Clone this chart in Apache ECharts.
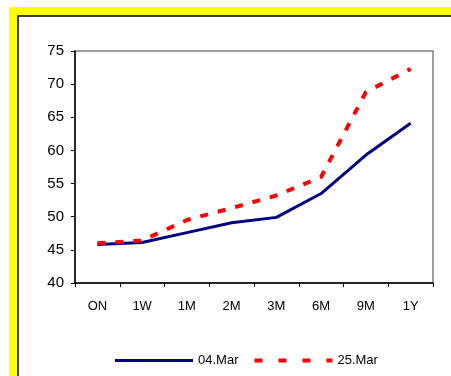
<!DOCTYPE html>
<html>
<head>
<meta charset="utf-8">
<script src="https://cdn.jsdelivr.net/npm/echarts@6/dist/echarts.min.js"></script>
<style>
  html, body { margin: 0; padding: 0; background: #ffffff; }
  #chart { width: 451px; height: 376px; }
</style>
</head>
<body>
<div id="chart"></div>
<script>
// Tenors on the horizontal axis
const tenors = ['ON', '1W', '1M', '2M', '3M', '6M', '9M', '1Y'];
// Curve on 04.Mar
const mar04 = [45.8, 46.1, 47.6, 49.1, 49.9, 53.5, 59.3, 64.1];
// Curve on 25.Mar
const mar25 = [46.0, 46.4, 49.5, 51.3, 53.2, 56.0, 68.8, 72.3];
// Vertical axis range
const yMin = 40, yMax = 75, yStep = 5;

// Legend keys: a solid bar and four dashes, both 4 units high
const solidKey = 'path://M0,0h78v0.01h-78z M0,0.5h78v3h-78z M0,3.99h78v0.01h-78z';
const dashKey = 'path://M0,0h8v4h-8z M24,0h8v4h-8z M48,0h8v4h-8z M72,0h6v4h-6z';

const chart = echarts.init(document.getElementById('chart'), null, { renderer: 'canvas' });

chart.setOption({
  animation: false,
  backgroundColor: '#ffffff',
  textStyle: { fontFamily: 'Liberation Sans, Arial, sans-serif', color: '#000' },
  graphic: [
    { type: 'rect', z: -10, shape: { x: 9, y: 7, width: 460, height: 400 }, style: { fill: '#ffff00' } },
    { type: 'rect', z: -9, shape: { x: 18, y: 16, width: 460, height: 400 }, style: { fill: '#ffffff', stroke: '#000000', lineWidth: 1.5 } }
  ],
  grid: {
    left: 75, top: 51, width: 358, height: 232,
    show: true, borderColor: '#808080', borderWidth: 1.5, backgroundColor: 'transparent'
  },
  legend: {
    left: 110, top: 349,
    itemWidth: 78, itemHeight: 4, itemGap: 16,
    textStyle: { fontSize: 13, color: '#000', fontFamily: 'Liberation Sans, Arial, sans-serif' },
    data: [
      { name: '04.Mar', icon: solidKey },
      { name: '25.Mar', icon: dashKey }
    ]
  },
  xAxis: {
    type: 'category',
    data: tenors,
    boundaryGap: true,
    axisLine: { lineStyle: { color: '#000', width: 1.5 } },
    axisTick: { show: true, length: 4, inside: false, alignWithLabel: false, lineStyle: { color: '#000' } },
    axisLabel: { fontSize: 13, color: '#000', margin: 17 },
    splitLine: { show: false }
  },
  yAxis: {
    type: 'value',
    min: yMin, max: yMax, interval: yStep,
    axisLine: { show: true, lineStyle: { color: '#000', width: 1.5 } },
    axisTick: { show: true, length: 4, lineStyle: { color: '#000' } },
    axisLabel: { fontSize: 15, color: '#000', margin: 11 },
    splitLine: { show: false }
  },
  series: [
    {
      name: '04.Mar', type: 'line', data: mar04,
      symbol: 'none', smooth: false,
      lineStyle: { color: '#000080', width: 3 },
      itemStyle: { color: '#000080' }
    },
    {
      name: '25.Mar', type: 'line', data: mar25,
      symbol: 'none', smooth: false,
      lineStyle: { color: '#ff0000', width: 4, type: [8, 10] },
      itemStyle: { color: '#ff0000' }
    }
  ]
});
</script>
</body>
</html>
